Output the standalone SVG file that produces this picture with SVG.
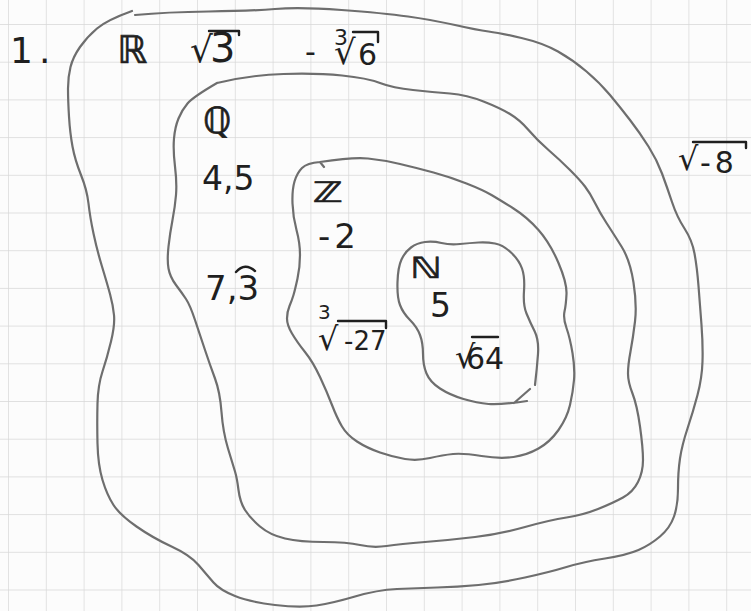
<svg xmlns="http://www.w3.org/2000/svg" width="751" height="611" viewBox="0 0 751 611">
<style>
.set{fill:none;stroke:#6e6e6e;stroke-width:2.2;stroke-linecap:round;stroke-linejoin:round}
.ink{fill:#1f1f1f;font-family:"DejaVu Sans",sans-serif}
.ds{stroke:#1f1f1f;stroke-width:0.7}
.bar{fill:none;stroke:#1f1f1f;stroke-width:2.4;stroke-linecap:round;stroke-linejoin:round}
</style>
<defs>
<pattern id="grid" patternUnits="userSpaceOnUse" x="8" y="24" width="37.8" height="37.7">
<path d="M0 0H37.8M0 0V37.7" fill="none" stroke="#d8d8d8" stroke-width="1.4"/>
</pattern>
</defs>
<rect width="751" height="611" fill="#fcfcfc"/>
<rect width="751" height="611" fill="url(#grid)"/>
<text class="ink" x="10" y="63" font-size="36" letter-spacing="6">1.</text>
<g id="set-R">
<path class="set" d="M135,15 Q167,12 208.5,11.5 Q250,11 275,9 Q300,7 341.5,10 Q383,13 408,16.5 Q433,20 455,25 Q477,30 488.5,31.5 Q500,33 521.5,38 Q543,43 558,51.5 Q573,60 586.5,71.5 Q600,83 610,95 Q620,107 630,120 Q640,133 648.5,146.5 Q657,160 662,173.5 Q667,187 672,202 Q677,217 684.5,228.5 Q692,240 694.5,253.5 Q697,267 698.5,286 Q700,305 701.5,325 Q703,345 702.5,361.5 Q702,378 697.5,395 Q693,412 687.5,428.5 Q682,445 680,458.5 Q678,472 678,488.5 Q678,505 674,516.5 Q670,528 660,536.5 Q650,545 638.5,550 Q627,555 605,558.5 Q583,562 566.5,567 Q550,572 525,577.5 Q500,583 478.5,585 Q457,587 437,587.5 Q417,588 397,589 Q377,590 355,596.5 Q333,603 316.5,605.5 Q300,608 275,605 Q250,602 235,596 Q220,590 213.5,582.5 Q207,575 198.5,565 Q190,555 171.5,546.5 Q153,538 136.5,526.5 Q120,515 113.5,505 Q107,495 102.5,480 Q98,465 97.5,443.5 Q97,422 97.5,403.5 Q98,385 102.5,371.5 Q107,358 111,341.5 Q115,325 114,315 Q113,305 110,294 Q107,283 102,266.5 Q97,250 93.5,233.5 Q90,217 88.5,203.5 Q87,190 81,175 Q75,160 72.5,146.5 Q70,133 69,116.5 Q68,100 68,88.5 Q68,77 70.5,67 Q73,57 80,47 Q87,37 97,28.5 Q107,20 132,11"/>
<text class="ink ds" x="117" y="63" font-size="38">ℝ</text>
</g>
<g id="set-Q">
<path class="set" d="M217,83 Q250,75 283.5,74 Q317,73 342,75.5 Q367,78 380,83 Q393,88 413,90 Q433,92 450,93.5 Q467,95 483.5,101.5 Q500,108 510,114 Q520,120 528.5,130 Q537,140 548.5,150 Q560,160 570,170 Q580,180 585,186.5 Q590,193 595,203 Q600,213 606.5,223 Q613,233 621.5,246.5 Q630,260 633.5,282.5 Q637,305 635,321.5 Q633,338 630.5,351.5 Q628,365 628,373.5 Q628,382 632.5,393.5 Q637,405 640,426.5 Q643,448 643,460 Q643,472 638,482 Q633,492 623,497.5 Q613,503 598,509 Q583,515 566.5,517.5 Q550,520 525,527 Q500,534 475,537 Q450,540 425,542 Q400,544 386.5,546 Q373,548 360,545 Q347,542 323.5,542 Q300,542 285,538.5 Q270,535 260,526.5 Q250,518 245,510 Q240,502 238.5,490 Q237,478 235,471.5 Q233,465 228,448.5 Q223,432 221.5,412 Q220,392 215,378.5 Q210,365 205,350 Q200,335 195,320 Q190,305 186,299 Q182,293 176,285 Q170,277 168.5,268.5 Q167,260 168.5,246.5 Q170,233 172.5,220 Q175,207 176,195 Q177,183 175,166.5 Q173,150 174,138.5 Q175,127 178.5,118.5 Q182,110 187.5,103.5 Q193,97 217,83"/>
<text class="ink ds" x="203" y="133" font-size="36">ℚ</text>
</g>
<g id="set-Z">
<path class="set" d="M320,162 Q353,157 368,158.5 Q383,160 400,164 Q417,168 433.5,172.5 Q450,177 466.5,183.5 Q483,190 491.5,195 Q500,200 513.5,208.5 Q527,217 538.5,230 Q550,243 558.5,263 Q567,283 566.5,294 Q566,305 564.5,311.5 Q563,318 566.5,328 Q570,338 572.5,353 Q575,368 574,380 Q573,392 570,405 Q567,418 558.5,430 Q550,442 538.5,448.5 Q527,455 513.5,457 Q500,459 481.5,456 Q463,453 453,454 Q443,455 430,458 Q417,461 405,459 Q393,457 380,452.5 Q367,448 357,441.5 Q347,435 342,426.5 Q337,418 332,405 Q327,392 320,377 Q313,362 305,352 Q297,342 292,333.5 Q287,325 287,318.5 Q287,312 289.5,306 Q292,300 293.5,295 Q295,290 297.5,278.5 Q300,267 300,255 Q300,243 296.5,230 Q293,217 292.5,203.5 Q292,190 294.5,181.5 Q297,173 302,168 Q307,163 320,162 L324,167"/>
<text class="ink ds" x="313" y="202" font-size="28" textLength="30" lengthAdjust="spacingAndGlyphs">ℤ</text>
</g>
<g id="set-N">
<path class="set" d="M535,385 Q537,368 538,354 Q539,340 534.5,331 Q530,322 526.5,313.5 Q523,305 524,291 Q525,277 522,268.5 Q519,260 511,252.5 Q503,245 495,243.5 Q487,242 478.5,242.5 Q470,243 460,244 Q450,245 441.5,243 Q433,241 425,242 Q417,243 411,247.5 Q405,252 401.5,259.5 Q398,267 397.5,282 Q397,297 400,305 Q403,313 410,320 Q417,327 420,335 Q423,343 423,354 Q423,365 426.5,373.5 Q430,382 440,388.5 Q450,395 463.5,399 Q477,403 488.5,404 Q500,405 527,401 M514,403 L530,389"/>
<text class="ink ds" x="410" y="278" font-size="29" textLength="32" lengthAdjust="spacingAndGlyphs">ℕ</text>
</g>
<g id="elements">
<g id="el-sqrt3">
<text class="ink" x="190" y="62" font-size="36">√<tspan x="210" font-size="40">3</tspan></text>
<path class="bar" d="M209,31 H239 V35"/>
</g>
<g id="el-cbrt6">
<text class="ink" font-size="30"><tspan x="305" y="62">-</tspan><tspan x="334" y="45" font-size="22">3</tspan><tspan x="334" y="64" font-size="34">√</tspan><tspan x="358" y="65">6</tspan></text>
<path class="bar" d="M353,32 H378 V42"/>
</g>
<text id="el-4-5" class="ink" x="202" y="190" font-size="33">4,5</text>
<g id="el-7-3">
<text class="ink" x="205" y="300" font-size="34">7,3</text>
<path class="bar" d="M236,272 Q245,262 255,271"/>
</g>
<text id="el-minus2" class="ink" x="318" y="248" font-size="34" letter-spacing="4">-2</text>
<text id="el-5" class="ink" x="430" y="317" font-size="33">5</text>
<g id="el-cbrt-27">
<text class="ink" font-size="26"><tspan x="318" y="319" font-size="20">3</tspan><tspan x="318" y="350" font-size="32">√</tspan><tspan x="344" y="350">-27</tspan></text>
<path class="bar" d="M338,321 H386 V328"/>
</g>
<g id="el-sqrt64">
<text class="ink" x="455" y="368" font-size="32">√<tspan x="466" y="369" font-size="30">64</tspan></text>
<path class="bar" d="M472,337 H498"/>
</g>
<g id="el-sqrt-8">
<text class="ink" x="678" y="170" font-size="32">√<tspan x="700" y="173" font-size="30" letter-spacing="4">-8</tspan></text>
<path class="bar" d="M693,142 H746 V148"/>
</g>
</g>
</svg>
